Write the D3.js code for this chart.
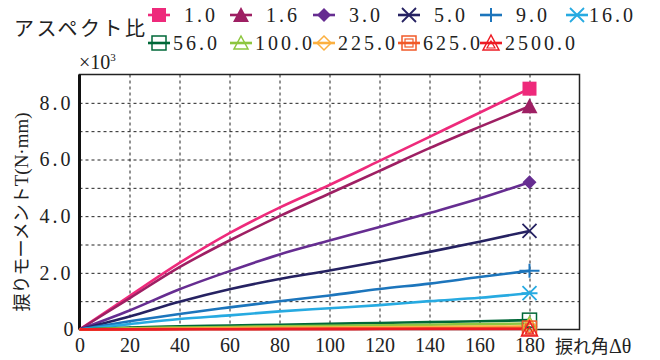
<!DOCTYPE html>
<html>
<head>
<meta charset="utf-8">
<script src="https://cdn.jsdelivr.net/npm/d3@7"></script>
<style>
  body { margin: 0; background: #fff; }
  svg { display: block; }
  svg text { font-family: "Times New Roman", "Liberation Serif", "DejaVu Serif", serif; }
</style>
</head>
<body>
<figure id="chart" style="margin:0"></figure>
<script>
// 捩れ角 (deg)
const angles = [0, 20, 40, 60, 80, 100, 120, 140, 160, 180];
// アスペクト比 labels
const ratios = ['1.0', '1.6', '3.0', '5.0', '9.0', '16.0', '56.0', '100.0', '225.0', '625.0', '2500.0'];
// torque ×10^3 N·mm
const t1_0   = [0, 1.18, 2.35, 3.4, 4.3, 5.1, 5.95, 6.8, 7.65, 8.5];
const t1_6   = [0, 1.1, 2.2, 3.14, 4.0, 4.8, 5.6, 6.4, 7.15, 7.88];
const t3_0   = [0, 0.67, 1.42, 2.06, 2.65, 3.14, 3.62, 4.11, 4.62, 5.2];
const t5_0   = [0, 0.46, 0.98, 1.42, 1.78, 2.08, 2.4, 2.74, 3.1, 3.48];
const t9_0   = [0, 0.29, 0.55, 0.78, 1.0, 1.2, 1.43, 1.62, 1.85, 2.07];
const t16_0  = [0, 0.19, 0.37, 0.5, 0.64, 0.75, 0.86, 1.0, 1.12, 1.28];
const t56_0  = [0, 0.07, 0.11, 0.14, 0.17, 0.2, 0.23, 0.26, 0.29, 0.33];
const t100_0 = [0, 0.04, 0.07, 0.09, 0.11, 0.13, 0.15, 0.17, 0.19, 0.21];
const t225_0 = [0, 0.02, 0.035, 0.05, 0.06, 0.07, 0.08, 0.09, 0.1, 0.11];
const t625_0 = [0, 0.01, 0.015, 0.02, 0.025, 0.03, 0.035, 0.04, 0.045, 0.05];
const t2500_0 = [0, 0.005, 0.007, 0.01, 0.012, 0.014, 0.016, 0.018, 0.02, 0.02];
const seriesValues = [t1_0, t1_6, t3_0, t5_0, t9_0, t16_0, t56_0, t100_0, t225_0, t625_0, t2500_0];
const xTicks = [0, 20, 40, 60, 80, 100, 120, 140, 160, 180];
const yTicks = [0, 2, 4, 6, 8];

const colors = ['#ee2a7b', '#9e1f63', '#662d91', '#262262', '#1c75bc', '#27aae1',
                '#006838', '#8dc63f', '#fbb040', '#f15a29', '#ed1c24'];
const shapes = ['square', 'triangle', 'diamond', 'x', 'plus', 'star',
                'squareLine', 'triOpen', 'diaOpen', 'squareDouble', 'triDouble'];

const SERIF = '"Times New Roman", "Liberation Serif", "DejaVu Serif", serif';
const JP = '"Noto Sans CJK JP", "Noto Sans CJK SC", sans-serif';

const W = 660, H = 360;
const svg = d3.select('#chart').append('svg').attr('width', W).attr('height', H);

const x = d3.scaleLinear().domain([0, 200]).range([79.5, 579.5]);
const y = d3.scaleLinear().domain([0, 9]).range([329.5, 74.5]);

// grid
svg.append('g')
  .attr('transform', 'translate(0,' + y(0) + ')')
  .call(d3.axisBottom(x).tickValues(d3.range(20, 200, 20)).tickSize(-(y(0) - y(9))).tickFormat(''))
  .call(g => g.select('.domain').remove())
  .selectAll('line').attr('stroke', '#222').attr('stroke-dasharray', '3,3');
svg.append('g')
  .attr('transform', 'translate(' + x(0) + ',0)')
  .call(d3.axisLeft(y).tickValues(d3.range(1, 9)).tickSize(-(x(200) - x(0))).tickFormat(''))
  .call(g => g.select('.domain').remove())
  .selectAll('line').attr('stroke', '#222').attr('stroke-dasharray', '3,3');

// frame
svg.append('rect')
  .attr('x', x(0)).attr('y', y(9))
  .attr('width', x(200) - x(0)).attr('height', y(0) - y(9))
  .attr('fill', 'none').attr('stroke', '#222').attr('stroke-width', 1.5);
svg.append('line')
  .attr('x1', x(0)).attr('x2', x(0)).attr('y1', y(9)).attr('y2', y(0))
  .attr('stroke', '#111').attr('stroke-width', 3);

// axes labels
const xa = svg.append('g')
  .attr('transform', 'translate(0,' + y(0) + ')')
  .call(d3.axisBottom(x).tickValues(xTicks).tickSize(0).tickPadding(8))
  .attr('font-family', null);
xa.select('.domain').remove();
xa.selectAll('text').style('font-family', SERIF).style('font-size', '20px').attr('fill', '#222');

const ya = svg.append('g')
  .attr('transform', 'translate(' + x(0) + ',0)')
  .call(d3.axisLeft(y).tickValues(yTicks).tickSize(0).tickPadding(6)
    .tickFormat(d => d === 0 ? '0' : d3.format('.1f')(d)))
  .attr('font-family', null);
ya.select('.domain').remove();
ya.selectAll('text').style('font-family', SERIF).style('font-size', '20px').attr('fill', '#222')
  .attr('letter-spacing', d => d === 0 ? 0 : 3);

svg.append('text').style('font-family', SERIF).style('font-size', '20px').attr('fill', '#222')
  .attr('x', 79).attr('y', 69)
  .text('×10').append('tspan').style('font-size', '11px').attr('dy', -8).text('3');

const xt = svg.append('text').attr('x', 555).attr('y', 353).attr('fill', '#222')
  .style('font-family', JP).style('font-size', '18px');
xt.append('tspan').text('捩れ角');
xt.append('tspan').style('font-family', SERIF).style('font-size', '20px').text('Δθ');

const yt = svg.append('text').attr('fill', '#222')
  .attr('transform', 'translate(28,' + 212 + ') rotate(-90)')
  .attr('text-anchor', 'middle')
  .style('font-family', JP).style('font-size', '18px');
yt.append('tspan').text('捩りモーメント');
yt.append('tspan').style('font-family', SERIF).style('font-size', '19px').text('T(N·mm)');

// markers
function marker(g, shape, c, cx, cy) {
  const s = 7;
  if (shape === 'square') {
    g.append('rect').attr('x', cx - s).attr('y', cy - s).attr('width', 2 * s).attr('height', 2 * s).attr('fill', c);
  } else if (shape === 'triangle') {
    g.append('path').attr('d', `M${cx},${cy - s - 1}L${cx + s + 1},${cy + s}L${cx - s - 1},${cy + s}Z`).attr('fill', c);
  } else if (shape === 'diamond') {
    g.append('path').attr('d', `M${cx},${cy - s}L${cx + s},${cy}L${cx},${cy + s}L${cx - s},${cy}Z`).attr('fill', c);
  } else if (shape === 'x') {
    g.append('path').attr('d', `M${cx - s},${cy - s}L${cx + s},${cy + s}M${cx - s},${cy + s}L${cx + s},${cy - s}`)
      .attr('stroke', c).attr('stroke-width', 1.8);
  } else if (shape === 'plus') {
    g.append('path').attr('d', `M${cx - s - 3},${cy}L${cx + s + 3},${cy}M${cx},${cy - s}L${cx},${cy + s}`)
      .attr('stroke', c).attr('stroke-width', 2);
  } else if (shape === 'star') {
    g.append('path').attr('d', `M${cx - s},${cy - s}L${cx + s},${cy + s}M${cx - s},${cy + s}L${cx + s},${cy - s}M${cx - s - 1},${cy}L${cx + s + 1},${cy}`)
      .attr('stroke', c).attr('stroke-width', 1.8);
  } else if (shape === 'squareLine') {
    g.append('rect').attr('x', cx - s).attr('y', cy - s).attr('width', 2 * s).attr('height', 2 * s)
      .attr('fill', 'none').attr('stroke', c).attr('stroke-width', 1.5);
  } else if (shape === 'triOpen') {
    g.append('path').attr('d', `M${cx},${cy - s}L${cx + s},${cy + s - 1}L${cx - s},${cy + s - 1}Z`)
      .attr('fill', 'none').attr('stroke', c).attr('stroke-width', 1.5);
  } else if (shape === 'diaOpen') {
    g.append('path').attr('d', `M${cx},${cy - s}L${cx + s},${cy}L${cx},${cy + s}L${cx - s},${cy}Z`)
      .attr('fill', 'none').attr('stroke', c).attr('stroke-width', 1.5);
  } else if (shape === 'squareDouble') {
    g.append('rect').attr('x', cx - s).attr('y', cy - s).attr('width', 2 * s).attr('height', 2 * s)
      .attr('fill', 'none').attr('stroke', c).attr('stroke-width', 1.5);
    g.append('rect').attr('x', cx - 4).attr('y', cy - 4).attr('width', 8).attr('height', 8)
      .attr('fill', 'none').attr('stroke', c).attr('stroke-width', 1.2);
  } else if (shape === 'triDouble') {
    g.append('path').attr('d', `M${cx},${cy - s - 1}L${cx + s + 1},${cy + s}L${cx - s - 1},${cy + s}Z`)
      .attr('fill', 'none').attr('stroke', c).attr('stroke-width', 1.5);
    g.append('path').attr('d', `M${cx},${cy - 2}L${cx + 4},${cy + 5}L${cx - 4},${cy + 5}Z`)
      .attr('fill', 'none').attr('stroke', c).attr('stroke-width', 1.2);
  }
}

// lines
const line = d3.line().x(d => x(d[0])).y(d => y(d[1])).curve(d3.curveMonotoneX);
const plot = svg.append('g');
seriesValues.forEach((vals, i) => {
  const pts = angles.map((a, j) => [a, vals[j]]);
  plot.append('path').datum(pts).attr('d', line)
    .attr('fill', 'none').attr('stroke', colors[i]).attr('stroke-width', 2.6);
});
seriesValues.forEach((vals, i) => {
  const last = vals.length - 1;
  marker(plot, shapes[i], colors[i], x(angles[last]), y(vals[last]));
});

// legend
svg.append('text').attr('x', 14).attr('y', 36).attr('fill', '#222')
  .style('font-family', JP).style('font-size', '20px')
  .attr('letter-spacing', 2.5).text('アスペクト比');
const colX = [148, 230, 313, 398, 480, 566];
ratios.forEach((r, i) => {
  const row = i < 6 ? 0 : 1;
  const col = i < 6 ? i : i - 6;
  const lx = colX[col], ly = row === 0 ? 15 : 43;
  const g = svg.append('g');
  g.append('line').attr('x1', lx).attr('x2', lx + 22).attr('y1', ly).attr('y2', ly)
    .attr('stroke', colors[i]).attr('stroke-width', 2.6);
  marker(g, shapes[i], colors[i], lx + 11, ly);
  const tx = row === 0 ? (r.length > 3 ? lx + 23 : lx + 36) : lx + 25;
  g.append('text').attr('x', tx).attr('y', ly + 7).attr('fill', '#222')
    .style('font-family', SERIF).style('font-size', '20px')
    .attr('letter-spacing', 3).text(r);
});
</script>
</body>
</html>
